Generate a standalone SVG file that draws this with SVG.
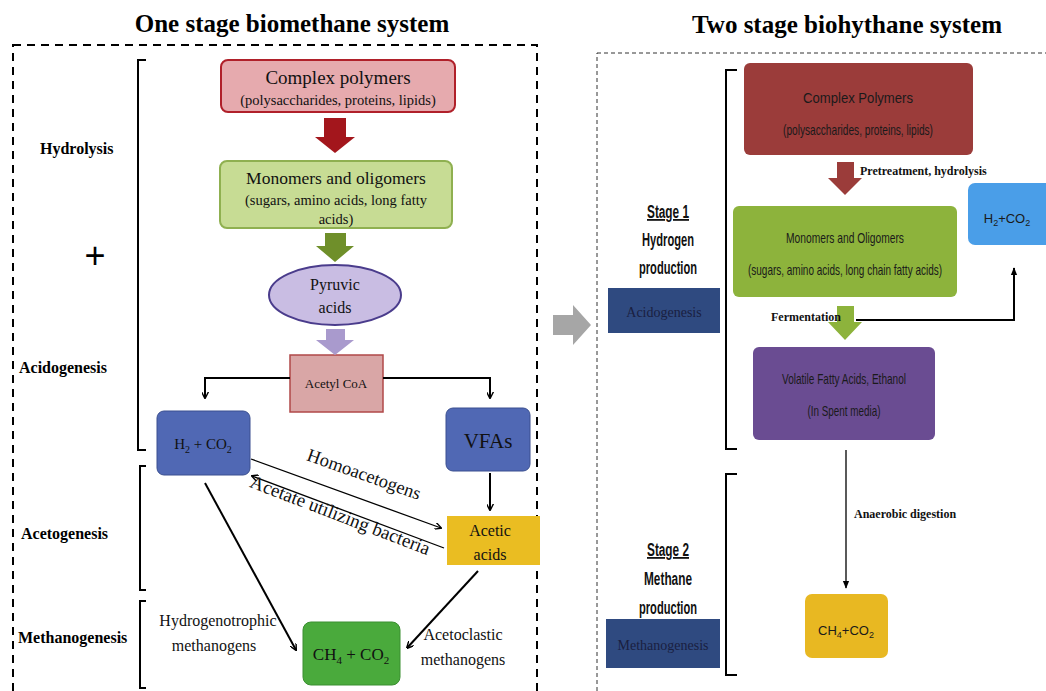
<svg xmlns="http://www.w3.org/2000/svg" width="1046" height="691" viewBox="0 0 1046 691">
<defs>
<marker id="ah" viewBox="0 0 10 10" refX="9" refY="5" markerWidth="7" markerHeight="7" orient="auto" markerUnits="userSpaceOnUse">
<path d="M0,0 L10,5 L0,10" fill="none" stroke="#000" stroke-width="2"/>
</marker>
<marker id="ahs" viewBox="0 0 10 10" refX="9" refY="5" markerWidth="8" markerHeight="8" orient="auto" markerUnits="userSpaceOnUse">
<path d="M0,1 L10,5 L0,9 Z" fill="#000"/>
</marker>
<style>
.title{font-family:"Liberation Serif",serif;font-weight:bold;font-size:25px;fill:#000;text-anchor:middle}
.lab{font-family:"Liberation Serif",serif;font-weight:bold;font-size:16px;fill:#000}
.ser{font-family:"Liberation Serif",serif;fill:#111;text-anchor:middle}
.san{font-family:"Liberation Sans",sans-serif;fill:#1a1a1a;text-anchor:middle}
.stg{font-family:"Liberation Sans",sans-serif;font-weight:bold;font-size:18px;fill:#111;text-anchor:middle}
.bl{font-family:"Liberation Serif",serif;font-weight:bold;font-size:12px;fill:#111}
.dash1{fill:none;stroke:#000;stroke-width:2;stroke-dasharray:8,6}
.dash2{fill:none;stroke:#333;stroke-width:1;stroke-dasharray:4,3}
.br{fill:none;stroke:#000;stroke-width:2}
.ln{fill:none;stroke:#000;stroke-width:2}
.ln1{fill:none;stroke:#000;stroke-width:1.3}
</style>
</defs>
<rect width="1046" height="691" fill="#fff"/>

<!-- Left panel -->
<g id="left-frame">
<text class="title" x="292" y="32">One stage biomethane system</text>
<rect class="dash1" x="13" y="45" width="524" height="660"/>
<path class="br" d="M146,60 H138 V450 H146"/>
<path class="br" d="M146,466 H140 V590 H146"/>
<path class="br" d="M146,601 H140 V688 H146"/>
<text class="lab" x="40" y="154" font-size="17">Hydrolysis</text>
<text x="95" y="268" font-family="Liberation Sans,sans-serif" font-size="36" text-anchor="middle" fill="#000">+</text>
<text class="lab" x="19" y="373" font-size="17">Acidogenesis</text>
<text class="lab" x="21" y="539" font-size="17">Acetogenesis</text>
<text class="lab" x="18" y="643" font-size="17">Methanogenesis</text>
</g>

<g id="complex-polymers">
<rect x="221" y="60" width="234" height="52" rx="7" fill="#e6aaae" stroke="#b0202a" stroke-width="2"/>
<text class="ser" x="338" y="84" font-size="19">Complex polymers</text>
<text class="ser" x="338" y="105" font-size="14.5">(polysaccharides, proteins, lipids)</text>
</g>
<g id="monomers">
<rect x="220" y="161" width="232" height="67" rx="7" fill="#c7dc94" stroke="#8fb050" stroke-width="2"/>
<text class="ser" x="336" y="184" font-size="17.5">Monomers and oligomers</text>
<text class="ser" x="336" y="205" font-size="14.5">(sugars, amino acids, long fatty</text>
<text class="ser" x="336" y="224" font-size="14.5">acids)</text>
</g>
<g id="pyruvic">
<ellipse cx="335" cy="295" rx="66" ry="30" fill="#c9bde3" stroke="#4a3c8c" stroke-width="2"/>
<text class="ser" x="335" y="290" font-size="16">Pyruvic</text>
<text class="ser" x="335" y="313" font-size="16">acids</text>
</g>
<g id="acetyl-coa">
<rect x="290" y="355" width="93" height="57" fill="#d9a6a6" stroke="#b04848" stroke-width="1.5"/>
<text class="ser" x="336" y="388" font-size="13">Acetyl CoA</text>
</g>
<g id="h2co2-left">
<rect x="157" y="411" width="93" height="64" rx="7" fill="#5068b4" stroke="#3a4f90" stroke-width="1"/>
<text class="ser" x="203" y="449" font-size="15">H<tspan font-size="10" dy="4">2</tspan><tspan dy="-4"> + CO</tspan><tspan font-size="10" dy="4">2</tspan></text>
</g>
<g id="vfas">
<rect x="446" y="408" width="84" height="63" rx="7" fill="#5068b4" stroke="#3a4f90" stroke-width="1"/>
<text class="ser" x="488" y="448" font-size="21">VFAs</text>
</g>
<g id="acetic-acids">
<rect x="447" y="516" width="93" height="49" fill="#eabd22"/>
<text class="ser" x="490" y="536" font-size="16">Acetic</text>
<text class="ser" x="490" y="560" font-size="16">acids</text>
</g>
<g id="ch4co2-left">
<rect x="303" y="622" width="97" height="63" rx="8" fill="#4aaa3c" stroke="#3a8f30" stroke-width="1"/>
<text class="ser" x="351" y="660" font-size="17">CH<tspan font-size="11" dy="4">4</tspan><tspan dy="-4"> + CO</tspan><tspan font-size="11" dy="4">2</tspan></text>
</g>

<g id="connectors-left">
<polygon points="324,118 346,118 346,137 355,137 335,153 315,137 324,137" fill="#a3161c"/>
<polygon points="325,233 346,233 346,246 354,246 335,262 316,246 325,246" fill="#6f8f2a"/>
<polygon points="326,329 345,329 345,340 354,340 335,355 316,340 326,340" fill="#a99acd"/>
<path class="ln" d="M290,378 H205 V398" marker-end="url(#ah)"/>
<path class="ln" d="M383,378 H490 V398" marker-end="url(#ah)"/>
<path class="ln" d="M490,473 V510" marker-end="url(#ah)"/>
<path class="ln1" d="M251,459 L441,528" marker-end="url(#ah)"/>
<path class="ln1" d="M444,548 L252,476" marker-end="url(#ah)"/>
<path class="ln" d="M205,483 L296,650" marker-end="url(#ah)"/>
<path class="ln" d="M478,571 L407,648" marker-end="url(#ah)"/>
<text class="ser" font-size="18.5" transform="translate(362,480) rotate(19.5)">Homoacetogens</text>
<text class="ser" font-size="19" transform="translate(338,521) rotate(21)">Acetate utilizing bacteria</text>
<text class="ser" x="218" y="626" font-size="16">Hydrogenotrophic</text>
<text class="ser" x="214" y="651" font-size="16">methanogens</text>
<text class="ser" x="463" y="640" font-size="16">Acetoclastic</text>
<text class="ser" x="463" y="665" font-size="16">methanogens</text>
</g>

<g id="between-arrow">
<polygon points="553,315 573,315 573,305 591,325 573,345 573,335 553,335" fill="#a6a6a6"/>
</g>

<!-- Right panel -->
<g id="right-frame">
<text class="title" x="847" y="33">Two stage biohythane system</text>
<rect class="dash2" x="597" y="53" width="460" height="650"/>
<path class="br" d="M737,70 H726 V449 H737"/>
<path class="br" d="M737,474 H726 V675 H737"/>
<text class="stg" x="668" y="218" text-decoration="underline" textLength="42" lengthAdjust="spacingAndGlyphs">Stage 1</text>
<text class="stg" x="668" y="246" textLength="52" lengthAdjust="spacingAndGlyphs">Hydrogen</text>
<text class="stg" x="668" y="274" textLength="58" lengthAdjust="spacingAndGlyphs">production</text>
<text class="stg" x="668" y="556" text-decoration="underline" textLength="42" lengthAdjust="spacingAndGlyphs">Stage 2</text>
<text class="stg" x="668" y="585" textLength="48" lengthAdjust="spacingAndGlyphs">Methane</text>
<text class="stg" x="668" y="614" textLength="58" lengthAdjust="spacingAndGlyphs">production</text>
</g>
<g id="acidogenesis-box">
<rect x="608" y="288" width="112" height="45" fill="#2f4a80"/>
<text x="664" y="317" font-family="Liberation Serif,serif" font-size="14" fill="#1a2040" text-anchor="middle">Acidogenesis</text>
</g>
<g id="methanogenesis-box">
<rect x="606" y="619" width="114" height="49" fill="#2f4a80"/>
<text x="663" y="650" font-family="Liberation Serif,serif" font-size="14" fill="#1a2040" text-anchor="middle">Methanogenesis</text>
</g>
<g id="complex-polymers-2">
<rect x="744" y="63" width="229" height="92" rx="6" fill="#9b3c3a"/>
<text class="san" x="858" y="103" font-size="14.5" textLength="110" lengthAdjust="spacingAndGlyphs">Complex Polymers</text>
<text class="san" x="858" y="135" font-size="14.5" textLength="150" lengthAdjust="spacingAndGlyphs">(polysaccharides, proteins, lipids)</text>
</g>
<g id="h2co2-right">
<rect x="968" y="183" width="86" height="62" rx="7" fill="#4a9ee8"/>
<text class="san" x="1007" y="223" font-size="13">H<tspan font-size="9" dy="3">2</tspan><tspan dy="-3">+CO</tspan><tspan font-size="9" dy="3">2</tspan></text>
</g>
<g id="monomers-2">
<rect x="733" y="206" width="224" height="91" rx="6" fill="#8db33c"/>
<text class="san" x="845" y="243" font-size="14.5" textLength="118" lengthAdjust="spacingAndGlyphs">Monomers and Oligomers</text>
<text class="san" x="845" y="275" font-size="14.5" textLength="194" lengthAdjust="spacingAndGlyphs">(sugars, amino acids, long chain fatty acids)</text>
</g>
<g id="vfa-ethanol">
<rect x="753" y="347" width="182" height="93" rx="6" fill="#6a4c92"/>
<text class="san" x="844" y="384" font-size="14.5" textLength="124" lengthAdjust="spacingAndGlyphs">Volatile Fatty Acids, Ethanol</text>
<text class="san" x="844" y="416" font-size="14.5" textLength="73" lengthAdjust="spacingAndGlyphs">(In Spent media)</text>
</g>
<g id="ch4co2-right">
<rect x="805" y="594" width="83" height="64" rx="7" fill="#e8b822"/>
<text class="san" x="846" y="635" font-size="13">CH<tspan font-size="9" dy="3">4</tspan><tspan dy="-3">+CO</tspan><tspan font-size="9" dy="3">2</tspan></text>
</g>
<g id="connectors-right">
<polygon points="837,162 854,162 854,178 862,178 845,195 828,178 837,178" fill="#9b3c3a"/>
<text class="bl" x="860" y="175">Pretreatment, hydrolysis</text>
<polygon points="837,306 854,306 854,322 862,322 845,340 828,322 837,322" fill="#8db33c"/>
<text class="bl" x="771" y="321">Fermentation</text>
<path class="ln" d="M856,320 H1014 V268" marker-end="url(#ahs)" stroke-width="1.5"/>
<path d="M846,450 V588" fill="none" stroke="#000" stroke-width="1.3" marker-end="url(#ahs)"/>
<text class="bl" x="854" y="518">Anaerobic digestion</text>
</g>
</svg>
